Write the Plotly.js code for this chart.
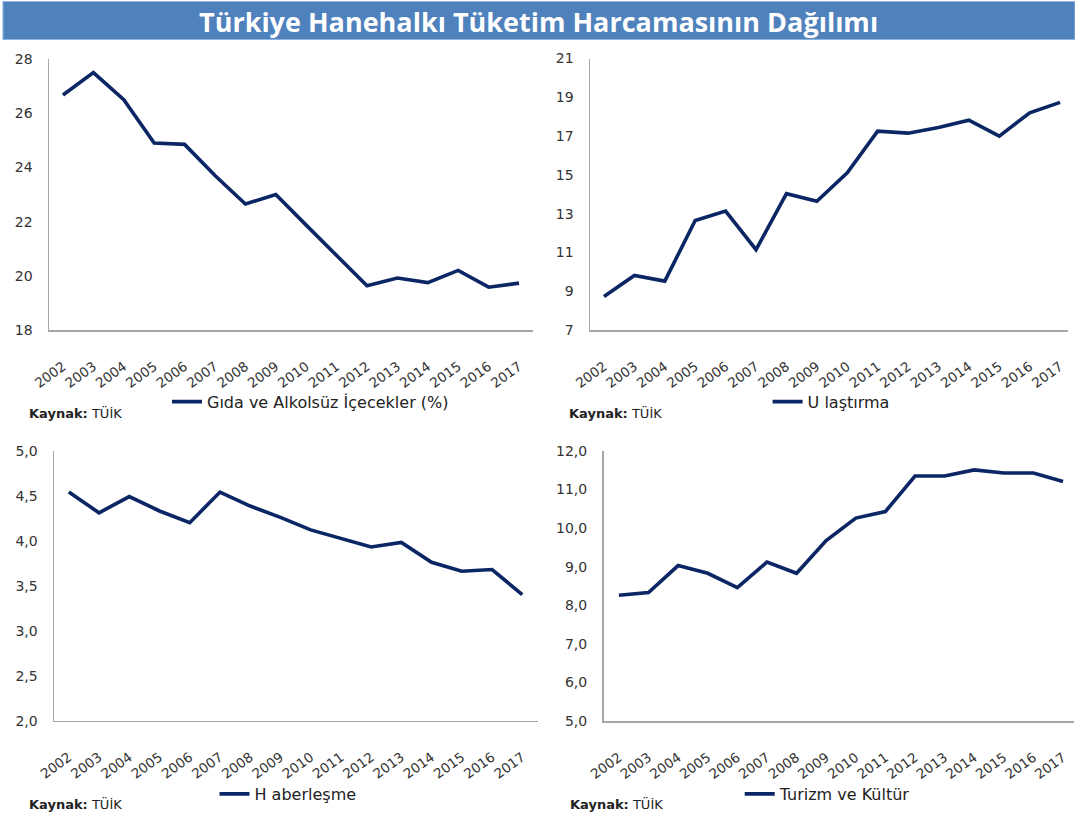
<!DOCTYPE html>
<html>
<head>
<meta charset="utf-8">
<script src="https://cdn.plot.ly/plotly-3.0.1.min.js"></script>
<style>html,body{margin:0;padding:0;background:#fff;}#chart{width:1075px;height:814px;}</style>
</head>
<body>
<div id="chart"></div>
<script>
// ---- data ----
var years = ['2002','2003','2004','2005','2006','2007','2008','2009','2010','2011','2012','2013','2014','2015','2016','2017'];
var gida = [26.67, 27.5, 26.5, 24.9, 24.85, 23.7, 22.65, 23.0, 21.87, 20.73, 19.63, 19.92, 19.75, 20.2, 19.58, 19.73];
var ulastirma = [8.73, 9.81, 9.52, 12.65, 13.13, 11.14, 14.03, 13.64, 15.1, 17.25, 17.15, 17.44, 17.82, 17.0, 18.2, 18.74];
var haberlesme = [4.54, 4.31, 4.49, 4.33, 4.2, 4.54, 4.385, 4.26, 4.12, 4.03, 3.93, 3.98, 3.76, 3.66, 3.68, 3.40];
var turizm = [8.26, 8.33, 9.03, 8.83, 8.46, 9.12, 8.83, 9.68, 10.26, 10.43, 11.35, 11.35, 11.51, 11.43, 11.43, 11.21];
var seriesNames = ['Gıda ve Alkolsüz İçecekler (%)', 'U laştırma', 'H aberleşme', 'Turizm ve Kültür'];
var yTicks1 = [18, 20, 22, 24, 26, 28];
var yTicks2 = [7, 9, 11, 13, 15, 17, 19, 21];
var yTicks3 = [2.0, 2.5, 3.0, 3.5, 4.0, 4.5, 5.0];
var yTicks4 = [5, 6, 7, 8, 9, 10, 11, 12];
var titleText = 'Türkiye Hanehalkı Tüketim Harcamasının Dağılımı';
var sourceText = '<b>Kaynak:</b> TÜİK';

// ---- layout helpers ----
var W = 1075, H = 814;
function px(x){ return x / W; }
function py(y){ return 1 - y / H; }

var panels = [
  {x0:49,  x1:533,  y0:59,    y1:330,   xr:[-0.46, 15.46], yr:[18, 28], ticks:yTicks1, fmt:'d',   legX:209,   legY:401.7, srcX:27,  srcY:412.5},
  {x0:590, x1:1068, y0:58.5,  y1:330,   xr:[-0.46, 15.26], yr:[7, 21],  ticks:yTicks2, fmt:'d',   legX:809.6, legY:401.7, srcX:567, srcY:412.5},
  {x0:54,  x1:538,  y0:450.7, y1:720.7, xr:[-0.49, 15.52], yr:[2, 5],   ticks:yTicks3, fmt:'.1f', legX:256.5, legY:794,   srcX:27,  srcY:804},
  {x0:603.5, x1:1074, y0:451, y1:721,   xr:[-0.52, 15.37], yr:[5, 12],  ticks:yTicks4, fmt:'.1f', legX:781.7, legY:794,   srcX:567.7, srcY:804}
];
var seriesData = [gida, ulastirma, haberlesme, turizm];

var lineColor = '#0b2664';
var axisColor = '#a6a6a6';
var tickColor = '#333333';
var fontFam = 'DejaVu Sans, Liberation Sans, Arial, sans-serif';

var traces = [];
var layout = {
  width: W, height: H,
  margin: {l:0, r:0, t:0, b:0},
  paper_bgcolor: '#ffffff',
  plot_bgcolor: 'rgba(0,0,0,0)',
  separators: ',.',
  showlegend: true,
  font: {family: fontFam, color: tickColor},
  shapes: [],
  annotations: []
};

panels.forEach(function(p, i){
  var n = i + 1;
  var xa = 'xaxis' + (n === 1 ? '' : n);
  var ya = 'yaxis' + (n === 1 ? '' : n);
  var lg = 'legend' + (n === 1 ? '' : n);
  traces.push({
    type: 'scatter', mode: 'lines',
    x: years, y: seriesData[i],
    name: seriesNames[i],
    xaxis: 'x' + (n === 1 ? '' : n), yaxis: 'y' + (n === 1 ? '' : n),
    legend: lg,
    line: {color: lineColor, width: 3.6, shape: 'linear'},
    hoverinfo: 'x+y'
  });
  layout[xa] = {
    domain: [px(p.x0), px(p.x1)],
    anchor: 'y' + (n === 1 ? '' : n),
    type: 'category',
    range: p.xr,
    showline: true, linecolor: axisColor, linewidth: 1.5,
    showgrid: false, zeroline: false, ticks: '',
    tickangle: -36,
    ticklabelstandoff: 22,
    tickfont: {family: fontFam, size: 13.5, color: tickColor},
    fixedrange: true
  };
  layout[ya] = {
    domain: [py(p.y1), py(p.y0)],
    anchor: 'x' + (n === 1 ? '' : n),
    range: p.yr,
    tickvals: p.ticks,
    tickformat: p.fmt,
    showline: true, linecolor: axisColor, linewidth: 1.5,
    showgrid: false, zeroline: false, ticks: '',
    ticklabelstandoff: 12,
    tickfont: {family: fontFam, size: 14, color: tickColor},
    fixedrange: true
  };
  layout[lg] = {
    x: px(p.legX - 42), xanchor: 'left',
    y: py(p.legY), yanchor: 'middle',
    bgcolor: 'rgba(0,0,0,0)',
    borderwidth: 0,
    font: {family: fontFam, size: 16, color: '#222222'}
  };
  layout.annotations.push({
    xref: 'paper', yref: 'paper',
    x: px(p.srcX), y: py(p.srcY),
    xanchor: 'left', yanchor: 'middle',
    text: sourceText, showarrow: false,
    font: {family: fontFam, size: 13, color: '#222222'}
  });
});

// title band
layout.shapes.push({
  type: 'rect', xref: 'paper', yref: 'paper',
  x0: px(3), x1: px(1075), y0: py(39.5), y1: py(1.5),
  fillcolor: '#4f81bd', line: {color: '#8db3e2', width: 1.2}, layer: 'below'
});
layout.annotations.push({
  xref: 'paper', yref: 'paper',
  x: px(538), y: py(21),
  xanchor: 'center', yanchor: 'middle',
  text: '<b>' + titleText + '</b>', showarrow: false,
  font: {family: 'Open Sans, Noto Sans, sans-serif', size: 27, color: '#ffffff'}
});

Plotly.newPlot('chart', traces, layout, {displayModeBar: false, staticPlot: true});
</script>
</body>
</html>
